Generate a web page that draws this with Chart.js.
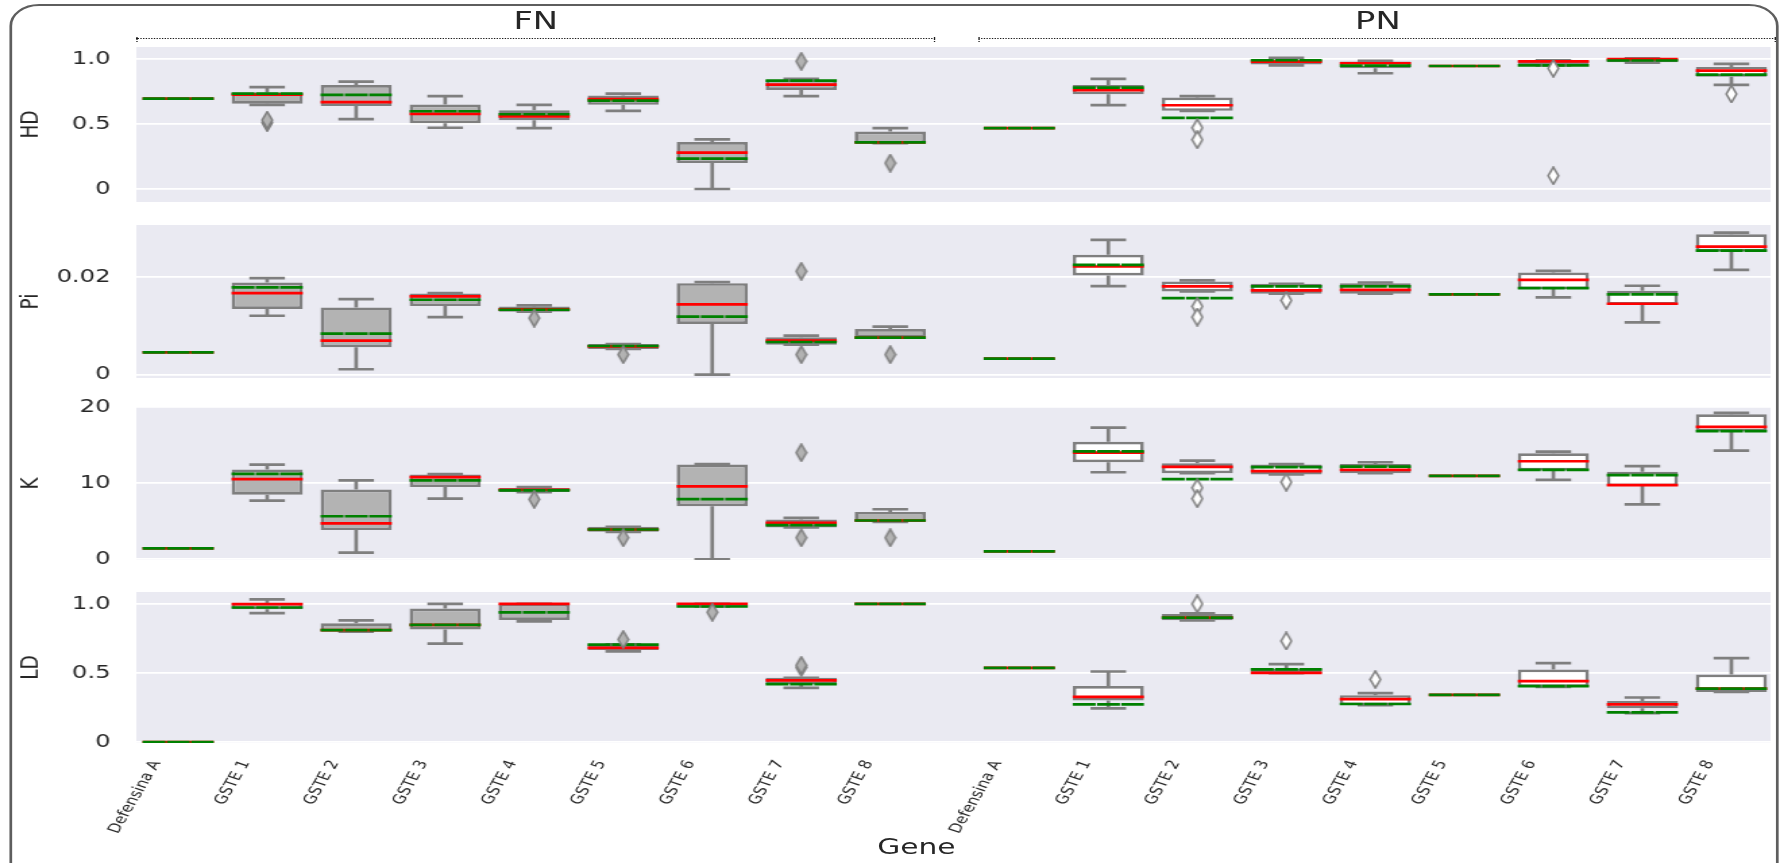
<!DOCTYPE html>
<html>
<head>
<meta charset="utf-8">
<title>HD, Pi, K, LD per gene</title>
<script src="https://cdn.jsdelivr.net/npm/chart.js@4.4.1/dist/chart.umd.min.js"></script>
<style>
  html, body { margin: 0; padding: 0; background: #fff; overflow: hidden; }
  /* the reference figure is stretched sideways, so the whole page is drawn narrow and widened */
  #page { position: absolute; left: 0; top: 0; width: 1319px; height: 863px;
          transform: scaleX(1.3495); transform-origin: 0 0;
          font-family: 'DejaVu Sans', sans-serif; color: #262626; }
  #frame { position: absolute; left: 7px; top: 4px; width: 1311px; height: 920px;
           box-sizing: border-box; border: 2px solid #5e5e5e; border-radius: 22px; }
  .grp { position: absolute; top: 6px; width: 200px; text-align: center; font-size: 25px; line-height: 30px; }
  .dots { position: absolute; top: 38px; height: 0; border-top: 1.6px dotted #1a1a1a; }
  .end { position: absolute; top: 37px; height: 5px; border-left: 1.6px dotted #1a1a1a; }
  canvas { position: absolute; left: 0; }
  #gene { position: absolute; left: 579px; top: 834px; width: 200px; text-align: center; font-size: 22px; line-height: 26px; }
</style>
</head>
<body>
<div id="page">
  <div id="frame"></div>
  <div class="grp" style="left:297px">FN</div>
  <div class="grp" style="left:921px">PN</div>
  <div class="dots" style="left:101px;width:592px"></div>
  <div class="end" style="left:101px"></div>
  <div class="end" style="left:692px"></div>
  <div class="dots" style="left:725px;width:591px"></div>
  <div class="end" style="left:725px"></div>
  <div class="end" style="left:1315px"></div>
  <canvas id="cHD" width="1319" height="183" style="top:33px"></canvas>
  <canvas id="cPi" width="1319" height="181" style="top:211px"></canvas>
  <canvas id="cK" width="1319" height="181" style="top:393px"></canvas>
  <canvas id="cLD" width="1319" height="285" style="top:578px"></canvas>
  <div id="gene">Gene</div>
</div>
<script>
const genes = ['Defensina A', 'GSTE 1', 'GSTE 2', 'GSTE 3', 'GSTE 4', 'GSTE 5', 'GSTE 6', 'GSTE 7', 'GSTE 8'];
const groups = ['FN', 'PN'];

// each box: [lower whisker, q1, median, q3, upper whisker, mean]
const hdFN = [
  [0.695, 0.695, 0.695, 0.695, 0.695, 0.695],
  [0.647, 0.655, 0.726, 0.742, 0.783, 0.733],
  [0.537, 0.639, 0.668, 0.800, 0.826, 0.724],
  [0.471, 0.506, 0.578, 0.650, 0.714, 0.598],
  [0.468, 0.529, 0.558, 0.606, 0.647, 0.575],
  [0.601, 0.647, 0.691, 0.719, 0.734, 0.680],
  [0.000, 0.199, 0.279, 0.361, 0.381, 0.233],
  [0.714, 0.762, 0.803, 0.839, 0.847, 0.834],
  [0.353, 0.353, 0.358, 0.442, 0.468, 0.358]
];
const hdFNOut = [[], [0.51, 0.53], [], [], [], [], [], [0.982], [0.199]];
const hdPN = [
  [0.468, 0.468, 0.468, 0.468, 0.468, 0.468],
  [0.645, 0.729, 0.760, 0.800, 0.847, 0.780],
  [0.601, 0.601, 0.644, 0.703, 0.714, 0.547],
  [0.951, 0.958, 0.980, 0.990, 1.008, 0.990],
  [0.890, 0.928, 0.967, 0.980, 0.985, 0.949],
  [0.946, 0.946, 0.946, 0.946, 0.946, 0.946],
  [0.950, 0.955, 0.982, 0.985, 0.990, 0.951],
  [0.972, 0.975, 0.998, 1.000, 1.005, 0.988],
  [0.800, 0.864, 0.910, 0.939, 0.962, 0.880]
];
const hdPNOut = [[], [], [0.471, 0.379], [], [], [], [0.928, 0.102], [], [0.731]];

const piFN = [
  [0.00457, 0.00457, 0.00457, 0.00457, 0.00457, 0.00457],
  [0.01208, 0.01345, 0.01672, 0.01890, 0.01980, 0.01788],
  [0.00110, 0.00560, 0.00696, 0.01379, 0.01550, 0.00840],
  [0.01180, 0.01406, 0.01604, 0.01666, 0.01670, 0.01536],
  [0.01290, 0.01290, 0.01338, 0.01399, 0.01420, 0.01331],
  [0.00526, 0.00526, 0.00580, 0.00628, 0.00628, 0.00587],
  [0.00000, 0.01038, 0.01440, 0.01877, 0.01900, 0.01188],
  [0.00614, 0.00614, 0.00696, 0.00765, 0.00800, 0.00669],
  [0.00758, 0.00758, 0.00758, 0.00935, 0.00983, 0.00758]
];
const piFNOut = [[], [], [], [], [0.0116], [0.0041], [], [0.0212, 0.0041], [0.0041]];
const piPN = [
  [0.00328, 0.00328, 0.00328, 0.00328, 0.00328, 0.00328],
  [0.01816, 0.02034, 0.02218, 0.02457, 0.02765, 0.02253],
  [0.01706, 0.01706, 0.01809, 0.01911, 0.01932, 0.01570],
  [0.01659, 0.01659, 0.01727, 0.01864, 0.01864, 0.01809],
  [0.01659, 0.01659, 0.01740, 0.01877, 0.01890, 0.01809],
  [0.01645, 0.01645, 0.01645, 0.01645, 0.01645, 0.01645],
  [0.01584, 0.01754, 0.01945, 0.02096, 0.02130, 0.01775],
  [0.01072, 0.01433, 0.01454, 0.01720, 0.01823, 0.01645],
  [0.02150, 0.02526, 0.02628, 0.02880, 0.02915, 0.02546]
];
const piPNOut = [[], [], [0.0140, 0.0118], [0.01522], [], [], [], [], []];

const kFN = [
  [1.43, 1.43, 1.43, 1.43, 1.43, 1.43],
  [7.70, 8.48, 10.52, 11.78, 12.43, 11.22],
  [0.87, 3.83, 4.70, 9.17, 10.35, 5.65],
  [7.96, 9.48, 10.78, 11.13, 11.20, 10.35],
  [8.83, 8.83, 9.13, 9.35, 9.48, 9.04],
  [3.60, 3.60, 3.91, 4.26, 4.26, 3.91],
  [0.00, 6.96, 9.57, 12.43, 12.50, 7.91],
  [4.17, 4.17, 4.78, 5.22, 5.43, 4.48],
  [4.91, 4.91, 5.09, 6.22, 6.57, 5.09]
];
const kFNOut = [[], [], [], [], [7.87], [2.83], [], [14.0, 2.83], [2.83]];
const kPN = [
  [1.04, 1.04, 1.04, 1.04, 1.04, 1.04],
  [11.43, 12.74, 14.00, 15.43, 17.30, 14.17],
  [11.30, 11.30, 12.13, 12.60, 12.96, 10.52],
  [11.13, 11.13, 11.57, 12.43, 12.50, 12.09],
  [11.30, 11.30, 11.74, 12.52, 12.74, 12.17],
  [10.96, 10.96, 10.96, 10.96, 10.96, 10.96],
  [10.43, 11.65, 12.87, 13.91, 14.13, 11.74],
  [7.22, 9.61, 9.74, 11.48, 12.22, 11.04],
  [14.26, 16.78, 17.39, 19.04, 19.22, 16.83]
];
const kPNOut = [[], [], [9.39, 7.96], [10.13], [], [], [], [], []];

const ldFN = [
  [0.000, 0.000, 0.000, 0.000, 0.000, 0.000],
  [0.933, 0.962, 0.998, 1.007, 1.033, 0.974],
  [0.800, 0.800, 0.810, 0.860, 0.881, 0.810],
  [0.713, 0.815, 0.848, 0.967, 1.000, 0.848],
  [0.874, 0.884, 1.000, 1.000, 1.000, 0.938],
  [0.656, 0.667, 0.682, 0.708, 0.708, 0.705],
  [0.981, 0.981, 1.000, 1.000, 1.000, 0.981],
  [0.392, 0.420, 0.447, 0.466, 0.466, 0.420],
  [1.000, 1.000, 1.000, 1.000, 1.000, 1.000]
];
const ldFNOut = [[], [], [], [], [], [0.743], [0.94], [0.54, 0.556], []];
const ldPN = [
  [0.537, 0.537, 0.537, 0.537, 0.537, 0.537],
  [0.245, 0.302, 0.328, 0.406, 0.511, 0.273],
  [0.881, 0.881, 0.900, 0.926, 0.931, 0.900],
  [0.499, 0.499, 0.501, 0.530, 0.565, 0.527],
  [0.268, 0.268, 0.311, 0.340, 0.354, 0.276],
  [0.342, 0.342, 0.342, 0.342, 0.342, 0.342],
  [0.399, 0.399, 0.442, 0.525, 0.572, 0.406],
  [0.209, 0.245, 0.273, 0.297, 0.323, 0.216],
  [0.363, 0.363, 0.387, 0.489, 0.608, 0.387]
];
const ldPNOut = [[], [], [1.0], [0.732], [0.454], [], [], [], []];

const hdTicks = [0, 0.5, 1];
const hdTickLabels = ['0', '0.5', '1.0'];
const piTicks = [0, 0.02];
const piTickLabels = ['0', '0.02'];
const kTicks = [0, 10, 20];
const kTickLabels = ['0', '10', '20'];
const ldTicks = [0, 0.5, 1];
const ldTickLabels = ['0', '0.5', '1.0'];

// layout: where each group starts on the x axis, and axis limits
const GROUP_START = [0, 9.45];
const X_MIN = -0.47, X_MAX = 17.89;
const GRAY = '#7f7f7f';
const TXT = '#262626';
const LW = 2.7;
const FONT = 'DejaVu Sans';

const xPos = [];
const xNames = [];
groups.forEach((g, gi) => genes.forEach((name, i) => {
  xPos.push(GROUP_START[gi] + i);
  xNames.push(name);
}));

const panelBg = {
  id: 'panelBg',
  beforeDraw(chart) {
    const a = chart.chartArea, ctx = chart.ctx;
    ctx.save();
    ctx.fillStyle = '#eaeaf2';
    ctx.fillRect(a.left, a.top, a.right - a.left, a.bottom - a.top);
    ctx.restore();
  }
};

function diamond(fill) {
  const c = document.createElement('canvas');
  c.width = 10; c.height = 19;
  const g = c.getContext('2d');
  g.beginPath();
  g.moveTo(5, 1); g.lineTo(8.8, 9.5); g.lineTo(5, 18); g.lineTo(1.2, 9.5);
  g.closePath();
  g.fillStyle = fill; g.fill();
  g.lineWidth = 1.6; g.strokeStyle = GRAY; g.stroke();
  return c;
}
const dFN = diamond('#b3b3b3');
const dPN = diamond('#ffffff');

function seg(data, color, order, dash) {
  return {type: 'line', data: data, borderColor: color, borderWidth: LW, borderDash: dash || [],
          pointRadius: 0, pointHoverRadius: 0, fill: false, tension: 0, spanGaps: false, order: order};
}

function makeRow(id, title, fnStats, pnStats, fnOut, pnOut, ticks, tickLabels, yMin, yMax, bottom) {
  const boxes = [], fills = [], whisk = [], caps = [], meds = [], means = [], outF = [], outP = [];
  [fnStats, pnStats].forEach((stats, gi) => {
    stats.forEach((s, i) => {
      const x = GROUP_START[gi] + i;
      const [lo, q1, med, q3, hi, mean] = s;
      if (q3 > q1) {
        boxes.push({x: x, y: [q1, q3]});
        fills.push(gi === 0 ? '#b3b3b3' : '#ffffff');
        whisk.push({x: x, y: q3}, {x: x, y: hi}, {x: x, y: null},
                   {x: x, y: q1}, {x: x, y: lo}, {x: x, y: null});
        caps.push({x: x - 0.2, y: hi}, {x: x + 0.2, y: hi}, {x: x, y: null},
                  {x: x - 0.2, y: lo}, {x: x + 0.2, y: lo}, {x: x, y: null});
      }
      meds.push({x: x - 0.4, y: med}, {x: x + 0.4, y: med}, {x: x, y: null});
      means.push({x: x - 0.4, y: mean}, {x: x + 0.4, y: mean}, {x: x, y: null});
    });
  });
  fnOut.forEach((vals, i) => vals.forEach(v => outF.push({x: GROUP_START[0] + i, y: v})));
  pnOut.forEach((vals, i) => vals.forEach(v => outP.push({x: GROUP_START[1] + i, y: v})));

  return new Chart(document.getElementById(id), {
    type: 'bar',
    data: {
      datasets: [
        seg(whisk, GRAY, 5),
        {type: 'bar', data: boxes, backgroundColor: fills, borderColor: GRAY, borderWidth: LW,
         borderSkipped: false, inflateAmount: 0, barPercentage: 0.8, categoryPercentage: 1, order: 4},
        seg(caps, GRAY, 3),
        seg(meds, '#ff0000', 2),
        seg(means, '#008000', 1, [17, 1]),
        {type: 'scatter', data: outF, pointStyle: dFN, pointRadius: 6, order: 0},
        {type: 'scatter', data: outP, pointStyle: dPN, pointRadius: 6, order: 0}
      ]
    },
    options: {
      responsive: false,
      animation: false,
      events: [],
      layout: {padding: {left: 0, right: 2, top: 14, bottom: bottom ? 0 : 14}},
      plugins: {legend: {display: false}, tooltip: {enabled: false}},
      scales: {
        x: {
          type: 'linear', min: X_MIN, max: X_MAX, offset: false,
          grid: {display: false, drawTicks: false, offset: false},
          border: {display: false},
          afterBuildTicks: s => { s.ticks = xPos.map(v => ({value: v})); },
          afterFit: s => { s.height = bottom ? 120 : 0; s.paddingLeft = 0; s.paddingRight = 0; },
          ticks: {
            display: bottom, autoSkip: false, minRotation: 66, maxRotation: 66, padding: 15,
            labelOffset: -16, color: TXT, font: {family: FONT, size: 13},
            callback: (v, i) => xNames[i]
          }
        },
        y: {
          min: yMin, max: yMax, beginAtZero: false,
          afterBuildTicks: s => { s.ticks = ticks.map(v => ({value: v})); },
          afterFit: s => { s.width = 101; s.paddingTop = 0; s.paddingBottom = 0; },
          grid: {color: '#ffffff', lineWidth: 1.7, drawTicks: false},
          border: {display: false},
          ticks: {padding: 19, color: TXT, font: {family: FONT, size: 18}, callback: (v, i) => tickLabels[i]},
          title: {display: true, text: title, color: TXT, font: {family: FONT, size: 18.5}, padding: {top: 12, bottom: 0}}
        }
      }
    },
    plugins: [panelBg]
  });
}

makeRow('cHD', 'HD', hdFN, hdPN, hdFNOut, hdPNOut, hdTicks, hdTickLabels, -0.1, 1.092, false);
makeRow('cPi', 'Pi', piFN, piPN, piFNOut, piPNOut, piTicks, piTickLabels, -0.0007, 0.0307, false);
makeRow('cK', 'K', kFN, kPN, kFNOut, kPNOut, kTicks, kTickLabels, -0.1, 20.0, false);
makeRow('cLD', 'LD', ldFN, ldPN, ldFNOut, ldPNOut, ldTicks, ldTickLabels, -0.006, 1.086, true);
</script>
</body>
</html>
